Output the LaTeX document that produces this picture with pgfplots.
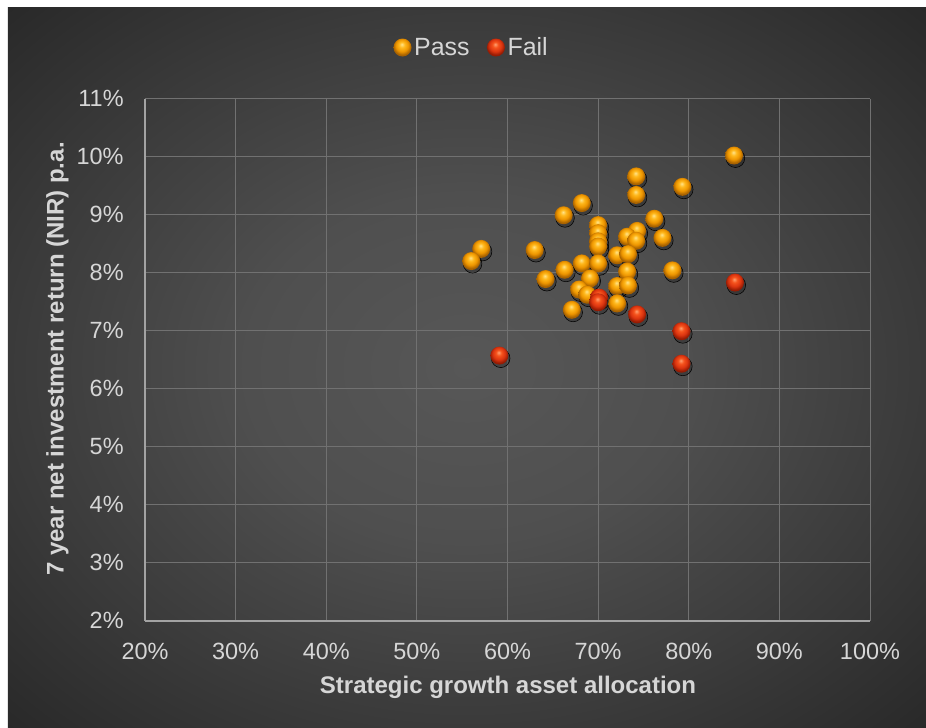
\documentclass[border=0pt]{standalone}
\usepackage{pgfplots}
\pgfplotsset{compat=1.18}
\usepackage{fontspec}
\setmainfont{Liberation Sans}

\pgfdeclarelayer{bg}
\pgfsetlayers{bg,main}

\definecolor{bgA}{HTML}{575757}
\definecolor{bgB}{HTML}{4F4F4F}
\definecolor{bgC}{HTML}{3A3A3A}
\definecolor{bgD}{HTML}{282828}
\definecolor{gridc}{HTML}{717171}
\definecolor{axisc}{HTML}{A3A3A3}
\definecolor{txtc}{HTML}{D6D6D6}

% gold and red balls for the markers
\definecolor{oA}{HTML}{FFE38A}
\definecolor{oB}{HTML}{FFB81C}
\definecolor{oC}{HTML}{EE9600}
\definecolor{oD}{HTML}{A86200}
\definecolor{rA}{HTML}{FFA070}
\definecolor{rB}{HTML}{F5521C}
\definecolor{rC}{HTML}{DC3510}
\definecolor{rD}{HTML}{961C04}

\pgfdeclareradialshading{bgshade}{\pgfpoint{0bp}{0bp}}{color(0bp)=(bgA); color(12bp)=(bgB); color(25bp)=(bgC); color(36bp)=(bgD); color(50bp)=(bgD)}
\pgfdeclareradialshading{goldball}{\pgfpoint{-2bp}{9bp}}{color(0bp)=(oA); color(8bp)=(oB); color(17bp)=(oC); color(25bp)=(oD); color(50bp)=(oD)}
\pgfdeclareradialshading{redball}{\pgfpoint{-2bp}{9bp}}{color(0bp)=(rA); color(8bp)=(rB); color(17bp)=(rC); color(25bp)=(rD); color(50bp)=(rD)}

\pgfdeclareplotmark{goldball}{%
  \pgfpathcircle{\pgfpointorigin}{\pgfplotmarksize}%
  \pgfshadepath{goldball}{0}\pgfusepath{discard}}
\pgfdeclareplotmark{redball}{%
  \pgfpathcircle{\pgfpointorigin}{\pgfplotmarksize}%
  \pgfshadepath{redball}{0}\pgfusepath{discard}}

% data
\pgfplotstableread{
x    y
85.0 10.02
79.3 9.48
74.2 9.66
74.2 9.34
68.2 9.20
66.2 8.99
76.2 8.93
70.0 8.82
70.0 8.68
70.0 8.54
70.0 8.45
74.3 8.72
73.2 8.62
74.2 8.55
77.1 8.60
63.0 8.39
57.1 8.41
56.0 8.20
72.1 8.30
73.3 8.32
66.3 8.05
68.2 8.16
70.0 8.16
78.2 8.04
73.2 8.02
64.2 7.89
69.1 7.90
67.9 7.71
72.1 7.77
73.3 7.78
68.8 7.62
72.1 7.47
67.1 7.36
}\passdata
\pgfplotstableread{
x    y
70.1 7.57
70.0 7.49
74.3 7.28
79.2 6.99
79.2 6.43
85.1 7.83
59.1 6.57
}\faildata

\begin{document}
\begin{tikzpicture}[x=0.75pt,y=0.75pt]
\begin{axis}[
  scale only axis,
  width=543.75pt, height=391.5pt,
  xmin=20, xmax=100, ymin=2, ymax=11,
  xtick={20,30,...,100},
  xticklabels={20\%,30\%,40\%,50\%,60\%,70\%,80\%,90\%,100\%},
  ytick={2,3,...,11},
  yticklabels={2\%,3\%,4\%,5\%,6\%,7\%,8\%,9\%,10\%,11\%},
  major tick length=0pt,
  grid=major,
  grid style={gridc, line width=0.75pt},
  axis line style={draw=none},
  separate axis lines,
  axis x line*=bottom, axis y line*=left,
  x axis line style={draw=axisc, line width=1.3pt},
  y axis line style={draw=axisc, line width=0.9pt},
  tick label style={text=txtc, font=\fontsize{17.6}{20}\selectfont},
  xticklabel style={yshift=-13pt},
  yticklabel style={xshift=-12.5pt},
  clip=false,
  legend columns=2,
  legend style={at={(0.451,1.098)}, anchor=center, draw=none, fill=none,
    text=txtc, font=\fontsize{18.7}{21}\selectfont,
    inner sep=0pt,
    /tikz/every even column/.append style={column sep=11pt},
    legend cell align=left},
  legend image code/.code={\draw[#1] plot coordinates {(0pt,0pt)};},
]
\coordinate (O) at (rel axis cs:0,0);
% soft shadows beneath the balls
\addplot[forget plot, only marks, mark=*, mark size=7pt,
  mark options={draw=none, fill=black, fill opacity=0.22, xshift=1pt, yshift=-2pt}]
  table[x=x,y=y] {\passdata};
\addplot[forget plot, only marks, mark=*, mark size=7pt,
  mark options={draw=none, fill=black, fill opacity=0.22, xshift=1pt, yshift=-2pt}]
  table[x=x,y=y] {\faildata};

\addplot[only marks, mark=goldball, mark size=6.75pt] table[x=x,y=y] {\passdata};
\addlegendentry{Pass}
\addplot[only marks, mark=redball, mark size=6.75pt] table[x=x,y=y] {\faildata};
\addlegendentry{Fail}
\end{axis}

% canvas of 926 x 728 units, placed around the axis box
\begin{scope}[shift={(O)}, xshift=-108.75pt, yshift=-80.5pt]
  \begin{pgfonlayer}{bg}
    \fill[white] (0,0) rectangle (926,728);
    \shade[shading=bgshade] (8,0) rectangle (926,720);
  \end{pgfonlayer}
  \node[text=txtc, font=\bfseries\fontsize{18}{21}\selectfont] at (508,41) {Strategic growth asset allocation};
  \node[text=txtc, font=\bfseries\fontsize{18}{21}\selectfont, rotate=90] at (57.5,369) {7 year net investment return (NIR) p.a.};
  \useasboundingbox (0,0) rectangle (926,728);
\end{scope}
\end{tikzpicture}
\end{document}
